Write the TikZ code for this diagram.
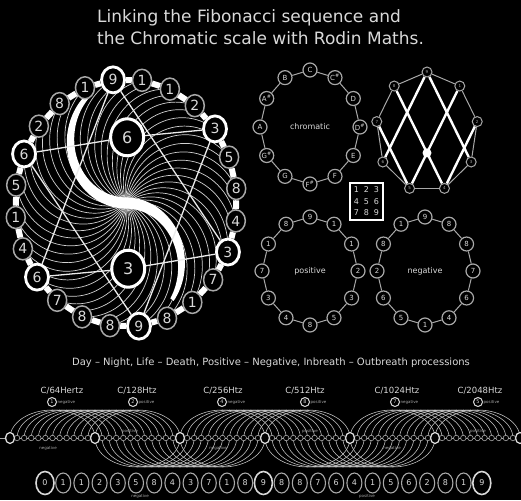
\documentclass[tikz,border=0pt]{standalone}
\usepackage{fontspec}
\setmainfont{DejaVu Sans}
\usetikzlibrary{shapes.geometric,calc}
\definecolor{lg}{gray}{0.85}
\definecolor{mg}{gray}{0.66}
\newcommand\myfs[1]{\fontsize{#1}{#1}\selectfont}
\newcommand\shp{\textsuperscript{\#}}
\begin{document}
\begin{tikzpicture}[x=1pt,y=-1pt,
  fieldl/.style={draw=white!82!black, line width=0.7pt},
  ringn/.style={ellipse, draw=mg, line width=1.5pt, fill=black, minimum width=19pt, minimum height=22pt, inner sep=0pt, text=lg, font=\myfs{14}},
  ringb/.style={ringn, draw=white, line width=2.8pt, minimum width=23pt, minimum height=26pt},
  ringlink/.style={draw=white, line width=6pt},
  innern/.style={ellipse, draw=white, line width=3pt, fill=black, minimum width=33pt, minimum height=37pt, inner sep=0pt, text=lg, font=\myfs{16}},
  rodinl/.style={draw=white!92!black, line width=1.3pt},
  chn/.style={circle, draw=mg, line width=1.2pt, fill=black, minimum size=14pt, inner sep=0pt, text=lg, font=\myfs{7}},
  chlink/.style={draw=mg, line width=1pt},
  gonn/.style={circle, draw=mg, line width=1pt, fill=black, minimum size=10pt, inner sep=0pt, text=mg, font=\myfs{4}},
  latl/.style={draw=white, line width=2.4pt},
  lbl/.style={text=lg, font=\myfs{8}, inner sep=0pt},
  tinyl/.style={text=mg, font=\myfs{4}, inner sep=0.5pt},
  fcirc/.style={circle, draw=lg, line width=1pt, fill=black, minimum size=9pt, inner sep=0pt, text=lg, font=\myfs{5}},
  freqt/.style={text=lg, font=\myfs{8.5}, inner sep=0pt},
  arcl/.style={draw=white!78!black, line width=0.55pt},
  sbig/.style={ellipse, draw=lg, line width=1.3pt, fill=black, minimum width=9pt, minimum height=11pt, inner sep=0pt},
  ssmall/.style={circle, draw=mg, line width=0.6pt, fill=black, minimum size=5.5pt, inner sep=0pt},
  rown/.style={ellipse, draw=mg, line width=1.1pt, fill=black, minimum width=15pt, minimum height=20pt, inner sep=0pt, text=lg, font=\myfs{8}},
  rowb/.style={rown, draw=lg, line width=1.6pt, minimum width=18pt, minimum height=23pt}
]
\fill[black] (0,0) rectangle (521,500);
\useasboundingbox (0,0) rectangle (521,500);

% ---------- title ----------
\node[anchor=base west, text=lg, font=\myfs{17}, inner sep=0pt] (t1) at (97,23) {Linking the Fibonacci sequence and};
\node[anchor=base west, text=lg, font=\myfs{17}, inner sep=0pt] (t2) at (97,45) {the Chromatic scale with Rodin Maths.};

% ---------- big Rodin circle ----------
\begin{scope}[shift={(126,203)}, x=111pt, y=124pt]
  \foreach \k in {0,...,47}{
    \pgfmathsetmacro\th{96.7-7.5*\k}
    \draw[fieldl] (0,0) .. controls +(\th+70:0.5) and +(\th+110:0.5) .. (\th:1);
  }
  % S curve
  \fill[white] plot[domain=0:1, samples=40] ({(0.5+0.045*(1-0.6*\x*\x))*cos(-90-138*\x)}, {0.5+(0.5+0.045*(1-0.6*\x*\x))*sin(-90-138*\x)})
     -- plot[domain=1:0, samples=40] ({(0.5-0.045*(1-0.6*\x*\x))*cos(-90-138*\x)}, {0.5+(0.5-0.045*(1-0.6*\x*\x))*sin(-90-138*\x)}) -- cycle;
  \fill[white] plot[domain=0:1, samples=40] ({(0.5+0.045*(1-0.6*\x*\x))*cos(90-124*\x)}, {-0.5+(0.5+0.045*(1-0.6*\x*\x))*sin(90-124*\x)})
     -- plot[domain=1:0, samples=40] ({(0.5-0.045*(1-0.6*\x*\x))*cos(90-124*\x)}, {-0.5+(0.5-0.045*(1-0.6*\x*\x))*sin(90-124*\x)}) -- cycle;
  \fill[white] (0,0) circle[radius=2.5pt];
  % ring nodes
  \foreach \d [count=\i from 0] in {9,1,1,2,3,5,8,4,3,7,1,8,9,8,8,7,6,4,1,5,6,2,8,1}{
    \pgfmathsetmacro\th{96.7-15*\i}
    \pgfmathtruncatemacro\isb{mod(\i,4)==0 ? 1 : 0}
    \ifnum\isb=1
      \node[ringb] (r\i) at (\th:1) {\d};
    \else
      \node[ringn] (r\i) at (\th:1) {\d};
    \fi
  }
  \foreach \i in {0,...,23}{
    \pgfmathtruncatemacro\j{mod(\i+1,24)}
    \draw[ringlink] (r\i) -- (r\j);
  }
  \node[innern] (i6) at (0.01,0.53) {6};
  \node[innern] (i3) at (0.02,-0.53) {3};
  \draw[rodinl] (r0) -- (r8);
  \draw[rodinl] (r0) -- (r16);
  \draw[rodinl] (r12) -- (r4);
  \draw[rodinl] (r12) -- (r20);
  \draw[rodinl] (r20) -- (i6) -- (r4);
  \draw[rodinl] (r16) -- (i3) -- (r8);
\end{scope}

% ---------- chromatic circle ----------
\begin{scope}[shift={(310,127)}, x=50pt, y=57pt]
  \foreach \n [count=\i from 0] in {C,C\shp,D,D\shp,E,F,F\shp,G,G\shp,A,A\shp,B}{
    \node[chn] (c\i) at (90-30*\i:1) {\n};
  }
  \foreach \i in {0,...,11}{
    \pgfmathtruncatemacro\j{mod(\i+1,12)}
    \draw[chlink] (c\i) -- (c\j);
  }
  \node[lbl] (chl) at (0,0) {chromatic};
\end{scope}

% ---------- nine-gon lattice ----------
\begin{scope}[shift={(427,132)}, x=51pt, y=60pt]
  \foreach \d [count=\i from 0] in {9,1,2,3,4,5,6,7,8}{
    \node[gonn] (g\i) at (90-40*\i:1) {\d};
  }
  \foreach \i in {0,...,8}{
    \pgfmathtruncatemacro\j{mod(\i+1,9)}
    \draw[chlink] (g\i) -- (g\j);
  }
  \draw[latl] (g0) -- (g6);
  \draw[latl] (g0) -- (g3);
  \draw[latl] (g8) -- (g4);
  \draw[latl] (g1) -- (g5);
  \draw[latl] (g7) -- (g5);
  \draw[latl] (g2) -- (g4);
  \node[circle, fill=white, minimum size=9pt, inner sep=0pt] (gc) at (0,-0.348) {};
\end{scope}

% ---------- 3x3 grid ----------
\node[draw=white, line width=1.2pt, minimum width=33pt, minimum height=37pt, inner sep=0pt] (grid) at (366.5,201.5) {};
\foreach \r in {0,1,2}{
  \foreach \c in {0,1,2}{
    \pgfmathtruncatemacro\v{3*\r+\c+1}
    \node[text=lg, font=\myfs{8}, inner sep=0pt] (gd\r\c) at ($(grid.center)+({10*\c-10},{11.5*\r-11.5})$) {\v};
  }
}

% ---------- positive circle ----------
\begin{scope}[shift={(310,271)}, x=48pt, y=54pt]
  \foreach \d [count=\i from 0] in {9,1,1,2,3,5,8,4,3,7,1,8}{
    \node[chn] (p\i) at (90-30*\i:1) {\d};
  }
  \foreach \i in {0,...,11}{
    \pgfmathtruncatemacro\j{mod(\i+1,12)}
    \draw[chlink] (p\i) -- (p\j);
  }
  \node[lbl] (pl) at (0,0) {positive};
\end{scope}

% ---------- negative circle ----------
\begin{scope}[shift={(425,271)}, x=48pt, y=54pt]
  \foreach \d [count=\i from 0] in {9,8,8,7,6,4,1,5,6,2,8,1}{
    \node[chn] (n\i) at (90-30*\i:1) {\d};
  }
  \foreach \i in {0,...,11}{
    \pgfmathtruncatemacro\j{mod(\i+1,12)}
    \draw[chlink] (n\i) -- (n\j);
  }
  \node[lbl] (nl) at (0,0) {negative};
\end{scope}

% ---------- subtitle ----------
\node[anchor=base, text=lg, font=\myfs{10}, inner sep=0pt] (sub) at (271,365)
  {Day – Night, Life – Death, Positive – Negative, Inbreath – Outbreath processions};

% ---------- frequencies ----------
\node[freqt] (ft1) at (62,391) {C/64Hertz};
\node[freqt] (ft2) at (137,391) {C/128Htz};
\node[freqt] (ft3) at (223,391) {C/256Htz};
\node[freqt] (ft4) at (305,391) {C/512Htz};
\node[freqt] (ft5) at (397,391) {C/1024Htz};
\node[freqt] (ft6) at (480,391) {C/2048Htz};
\node[fcirc] (fc1) at (52,402) {1};
\node[fcirc] (fc2) at (133,402) {2};
\node[fcirc] (fc3) at (222,402) {4};
\node[fcirc] (fc4) at (305,402) {8};
\node[fcirc] (fc5) at (395,402) {7};
\node[fcirc] (fc6) at (478,402) {5};
\node[tinyl, anchor=west] (fl1) at (fc1.east) {negative};
\node[tinyl, anchor=west] (fl2) at (fc2.east) {positive};
\node[tinyl, anchor=west] (fl3) at (fc3.east) {negative};
\node[tinyl, anchor=west] (fl4) at (fc4.east) {positive};
\node[tinyl, anchor=west] (fl5) at (fc5.east) {negative};
\node[tinyl, anchor=west] (fl6) at (fc6.east) {positive};

% ---------- strip ----------
\coordinate (sL) at (0,438);
\coordinate (sR) at (521,438);
\draw[draw=mg, line width=0.8pt] (sL) -- (sR);
\foreach \a in {10,180,350}{
  \foreach \k in {0,...,12}{
    \draw[arcl] ({\a+\k*85/12},438) arc[start angle=180, end angle=360, x radius=42.5, y radius=28];
  }
}
\foreach \a in {95,265}{
  \foreach \k in {0,...,12}{
    \draw[arcl] ({\a+\k*85/12},438) arc[start angle=180, end angle=0, x radius=42.5, y radius=29];
  }
}
\foreach \j in {0,...,5}{
  \foreach \k in {1,...,11}{
    \node[ssmall] (s\j-\k) at ({10+85*\j+\k*85/12},438) {};
  }
}
\foreach \j in {0,...,6}{
  \node[sbig] (b\j) at ({10+85*\j},438) {};
}
\node[tinyl] (sp1) at (130,431) {positive};
\node[tinyl] (sp2) at (310,431) {positive};
\node[tinyl] (sp3) at (478,431) {positive};
\node[tinyl] (sn1) at (48,448) {negative};
\node[tinyl] (sn2) at (218,448) {negative};
\node[tinyl] (sn3) at (392,448) {negative};

% ---------- bottom row ----------
\foreach \d [count=\i from 0] in {0,1,1,2,3,5,8,4,3,7,1,8,9,8,8,7,6,4,1,5,6,2,8,1,9}{
  \pgfmathtruncatemacro\isb{mod(\i,12)==0 ? 1 : 0}
  \ifnum\isb=1
    \node[rowb] (w\i) at ({45+18.2*\i},483) {\d};
  \else
    \node[rown] (w\i) at ({45+18.2*\i},483) {\d};
  \fi
}
\node[tinyl] (wn) at (140,496) {negative};
\node[tinyl] (wp) at (367,496) {positive};
\end{tikzpicture}
\end{document}
